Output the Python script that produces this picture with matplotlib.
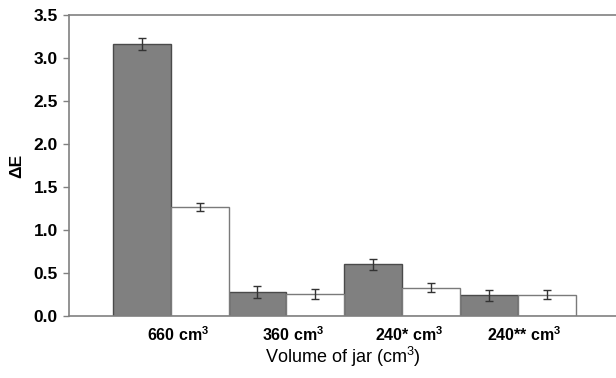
import matplotlib
matplotlib.use("Agg")
import matplotlib.pyplot as plt
import numpy as np

plt.rcParams['font.family'] = ['Liberation Sans', 'DejaVu Sans']
plt.rcParams['mathtext.fontset'] = 'custom'
plt.rcParams['mathtext.rm'] = 'Liberation Sans'
plt.rcParams['mathtext.bf'] = 'Liberation Sans:bold'

categories = [r"660 cm$^\mathbf{3}$", r"360 cm$^\mathbf{3}$", r"240* cm$^\mathbf{3}$", r"240** cm$^\mathbf{3}$"]
dark_vals = [3.16, 0.28, 0.60, 0.24]
dark_err = [0.07, 0.065, 0.066, 0.067]
white_vals = [1.27, 0.26, 0.33, 0.25]
white_err = [0.05, 0.058, 0.05, 0.056]
yticks = [0.0, 0.5, 1.0, 1.5, 2.0, 2.5, 3.0, 3.5]

fig = plt.figure(figsize=(6.16, 3.78), dpi=100)
ax = fig.add_axes([0.112, 0.164, 0.888, 0.796])

x = np.arange(len(categories))
w = 0.5
ax.bar(x - w/2, dark_vals, width=w, color='#808080', edgecolor='#4a4a4a', linewidth=1.0,
       yerr=dark_err, error_kw=dict(ecolor='#333333', elinewidth=1.0, capsize=3, capthick=1.0))
ax.bar(x + w/2, white_vals, width=w, color='white', edgecolor='#7a7a7a', linewidth=1.0,
       yerr=white_err, error_kw=dict(ecolor='#333333', elinewidth=1.0, capsize=3, capthick=1.0))

ax.set_xlim(-0.88, 3.85)
ax.set_ylim(0, 3.5)
ax.set_yticks(yticks)
ax.set_yticklabels([f"{v:.1f}" for v in yticks], fontsize=12.5, fontweight='bold')
ax.set_xticks(x + 0.06)
ax.set_xticklabels(categories, fontsize=11.5, fontweight='bold')
ax.tick_params(axis='x', length=0, pad=7)
ax.tick_params(axis='y', direction='out', length=4, color='#808080', width=1, pad=4)

for s in ['left', 'bottom', 'top']:
    ax.spines[s].set_color('#808080')
    ax.spines[s].set_linewidth(1.2)
ax.spines['right'].set_visible(False)

ax.set_ylabel("ΔE", fontsize=12.5, fontweight='bold', labelpad=7)
ax.set_xlabel(r"Volume of jar (cm$^\mathregular{3}$)", fontsize=13, labelpad=0)

fig.savefig("out.png", dpi=100)
